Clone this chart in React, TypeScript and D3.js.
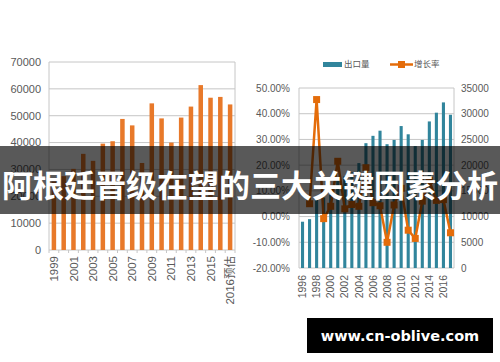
import React, { useEffect, useRef } from 'react';
import * as d3 from 'd3';

// left chart: yearly volume
const leftCategories = ['1999', '2000', '2001', '2002', '2003', '2004', '2005', '2006', '2007', '2008', '2009', '2010', '2011', '2012', '2013', '2014', '2015', '2016', '2016预估'];
const leftValues = [25500, 27500, 30200, 35800, 33200, 39600, 40500, 48800, 46400, 32400, 54600, 49000, 40000, 49300, 53400, 61400, 56700, 57000, 54200];
const leftTicks = [0, 10000, 20000, 30000, 40000, 50000, 60000, 70000];

// right chart: export volume + growth rate
const rightCategories = ['1996', '1997', '1998', '1999', '2000', '2001', '2002', '2003', '2004', '2005', '2006', '2007', '2008', '2009', '2010', '2011', '2012', '2013', '2014', '2015', '2016', '2017'];
const exportVolume = [9000, 9500, 13800, 13700, 14200, 17300, 17800, 18600, 20400, 24270, 25700, 26700, 24070, 24900, 27600, 26000, 23700, 24900, 28500, 30200, 32200, 29800];
const growthRate: (number | null)[] = [null, 5, 45.5, -0.8, 4, 21.5, 3, 4.7, 4, 19, 5.4, 4.2, -10, 4.5, 11, -5.3, -8.5, 6, 14, 6.3, 6.6, -6.3];
const pctTicks = [-20, -10, 0, 10, 20, 30, 40, 50];
const volTicks = [0, 5000, 10000, 15000, 20000, 25000, 30000, 35000];
const legendLabels = ['出口量', '增长率'];

const title = '阿根廷晋级在望的三大关键因素分析';
const watermark = 'www.cn-oblive.com';

const ORANGE_BAR = '#E8792A';
const TEAL = '#31859C';
const ORANGE_LINE = '#E46C0A';
const GRID = '#c6c6c6';
const TEXT = '#595959';
const FONT = '"Liberation Sans", Arial, "Noto Sans CJK SC", sans-serif';

export default function App() {
  const svgRef = useRef<SVGSVGElement>(null);

  useEffect(() => {
    if (!svgRef.current) return;
    const svg = d3.select(svgRef.current);
    svg.selectAll('*').remove();

    svg.append('rect').attr('width', 500).attr('height', 362).attr('fill', '#fff');

    // ---------- left chart ----------
    const xL = d3.scaleBand<string>()
      .domain(leftCategories)
      .range([49, 235])
      .paddingInner(0.54)
      .paddingOuter(0.27);
    const yL = d3.scaleLinear().domain([0, 70000]).range([250, 62]);

    const left = svg.append('g');

    left.selectAll('line.grid')
      .data(leftTicks)
      .join('line')
      .attr('x1', 49)
      .attr('x2', 235)
      .attr('y1', d => yL(d))
      .attr('y2', d => yL(d))
      .attr('stroke', GRID)
      .attr('stroke-width', 1);

    left.append('line')
      .attr('x1', 235).attr('x2', 235)
      .attr('y1', yL(70000)).attr('y2', yL(0))
      .attr('stroke', GRID);
    left.append('line')
      .attr('x1', 49).attr('x2', 49)
      .attr('y1', yL(70000)).attr('y2', yL(0))
      .attr('stroke', GRID);

    left.selectAll('text.ytick')
      .data(leftTicks)
      .join('text')
      .attr('x', 41)
      .attr('y', d => yL(d))
      .attr('dy', '0.35em')
      .attr('text-anchor', 'end')
      .attr('font-family', FONT)
      .attr('font-size', 11)
      .attr('fill', TEXT)
      .text(d => d);

    left.selectAll('rect.bar')
      .data(leftValues)
      .join('rect')
      .attr('x', (_, i) => xL(leftCategories[i])!)
      .attr('y', d => yL(d))
      .attr('width', xL.bandwidth())
      .attr('height', d => yL(0) - yL(d))
      .attr('fill', ORANGE_BAR);

    // category ticks
    const stepL = xL.step();
    left.selectAll('line.xtick')
      .data(d3.range(leftCategories.length + 1))
      .join('line')
      .attr('x1', i => 49 + i * stepL)
      .attr('x2', i => 49 + i * stepL)
      .attr('y1', yL(0))
      .attr('y2', yL(0) + 3)
      .attr('stroke', GRID);

    left.selectAll('text.xlab')
      .data(leftCategories.filter((_, i) => i % 2 === 0))
      .join('text')
      .attr('transform', d => `translate(${xL(d)! + xL.bandwidth() / 2},256) rotate(-90)`)
      .attr('text-anchor', 'end')
      .attr('dy', '0.35em')
      .attr('font-family', FONT)
      .attr('font-size', 11.5)
      .attr('fill', TEXT)
      .text(d => d);

    // ---------- right chart ----------
    const xR = d3.scaleBand<string>()
      .domain(rightCategories)
      .range([299, 454])
      .paddingInner(0.56)
      .paddingOuter(0.28);
    const yPct = d3.scaleLinear().domain([-20, 50]).range([268, 88]);
    const yVol = d3.scaleLinear().domain([0, 35000]).range([268, 88]);

    const right = svg.append('g');

    right.selectAll('line.grid')
      .data(pctTicks)
      .join('line')
      .attr('x1', 299)
      .attr('x2', 454)
      .attr('y1', d => yPct(d))
      .attr('y2', d => yPct(d))
      .attr('stroke', GRID);

    right.append('line')
      .attr('x1', 299).attr('x2', 299)
      .attr('y1', 88).attr('y2', 268)
      .attr('stroke', GRID);
    right.append('line')
      .attr('x1', 454).attr('x2', 454)
      .attr('y1', 88).attr('y2', 268)
      .attr('stroke', GRID);

    right.selectAll('text.pct')
      .data(pctTicks)
      .join('text')
      .attr('x', 290)
      .attr('y', d => yPct(d))
      .attr('dy', '0.35em')
      .attr('text-anchor', 'end')
      .attr('font-family', FONT)
      .attr('font-size', 10)
      .attr('fill', TEXT)
      .text(d => `${d.toFixed(2)}%`);

    right.selectAll('text.vol')
      .data(volTicks)
      .join('text')
      .attr('x', 461)
      .attr('y', d => yVol(d))
      .attr('dy', '0.35em')
      .attr('font-family', FONT)
      .attr('font-size', 10)
      .attr('fill', TEXT)
      .text(d => d);

    right.selectAll('rect.bar')
      .data(exportVolume)
      .join('rect')
      .attr('x', (_, i) => xR(rightCategories[i])!)
      .attr('y', d => yVol(d))
      .attr('width', xR.bandwidth())
      .attr('height', d => yVol(0) - yVol(d))
      .attr('fill', TEAL);

    const cx = (i: number) => xR(rightCategories[i])! + xR.bandwidth() / 2;
    const line = d3.line<number | null>()
      .defined(d => d !== null)
      .x((_, i) => cx(i))
      .y(d => yPct(d as number));

    right.append('path')
      .datum(growthRate)
      .attr('d', line)
      .attr('fill', 'none')
      .attr('stroke', ORANGE_LINE)
      .attr('stroke-width', 2.5);

    right.selectAll('rect.marker')
      .data(growthRate.map((d, i) => ({ d, i })).filter(p => p.d !== null))
      .join('rect')
      .attr('x', p => cx(p.i) - 3.5)
      .attr('y', p => yPct(p.d as number) - 3.5)
      .attr('width', 7)
      .attr('height', 7)
      .attr('fill', ORANGE_LINE);

    right.selectAll('text.xlab')
      .data(rightCategories.filter((_, i) => i % 2 === 0))
      .join('text')
      .attr('transform', d => `translate(${xR(d)! + xR.bandwidth() / 2},275) rotate(-90)`)
      .attr('text-anchor', 'end')
      .attr('dy', '0.35em')
      .attr('font-family', FONT)
      .attr('font-size', 10.5)
      .attr('fill', TEXT)
      .text(d => d);

    // legend
    const legend = right.append('g');
    legend.append('rect')
      .attr('x', 323).attr('y', 62).attr('width', 19).attr('height', 5)
      .attr('fill', TEAL);
    legend.append('text')
      .attr('x', 344).attr('y', 64.5).attr('dy', '0.35em')
      .attr('font-family', '"Noto Sans CJK SC", sans-serif')
      .attr('font-size', 8.5)
      .attr('fill', TEXT)
      .text(legendLabels[0]);
    legend.append('line')
      .attr('x1', 390).attr('x2', 413).attr('y1', 64.5).attr('y2', 64.5)
      .attr('stroke', ORANGE_LINE).attr('stroke-width', 2.5);
    legend.append('rect')
      .attr('x', 398).attr('y', 61).attr('width', 7).attr('height', 7)
      .attr('fill', ORANGE_LINE);
    legend.append('text')
      .attr('x', 414).attr('y', 64.5).attr('dy', '0.35em')
      .attr('font-family', '"Noto Sans CJK SC", sans-serif')
      .attr('font-size', 8.5)
      .attr('fill', TEXT)
      .text(legendLabels[1]);

    // ---------- overlay banner ----------
    svg.append('rect')
      .attr('x', 0).attr('y', 146).attr('width', 500).attr('height', 68)
      .attr('fill', '#000').attr('fill-opacity', 0.65);
    svg.append('text')
      .attr('x', 250).attr('y', 197)
      .attr('text-anchor', 'middle')
      .attr('font-family', '"Noto Sans CJK SC", sans-serif')
      .attr('font-weight', 'bold')
      .attr('font-size', 31)
      .attr('fill', '#fff')
      .text(title);

    // watermark
    svg.append('rect')
      .attr('x', 307).attr('y', 318).attr('width', 186).attr('height', 35)
      .attr('fill', '#000');
    svg.append('text')
      .attr('x', 400).attr('y', 341)
      .attr('text-anchor', 'middle')
      .attr('font-family', '"DejaVu Sans", sans-serif')
      .attr('font-weight', 'bold')
      .attr('font-size', 14.5)
      .attr('fill', '#fff')
      .text(watermark);
  }, []);

  return (
    <svg
      ref={svgRef}
      width={500}
      height={362}
      style={{ position: 'absolute', left: 0, top: 0 }}
    />
  );
}
